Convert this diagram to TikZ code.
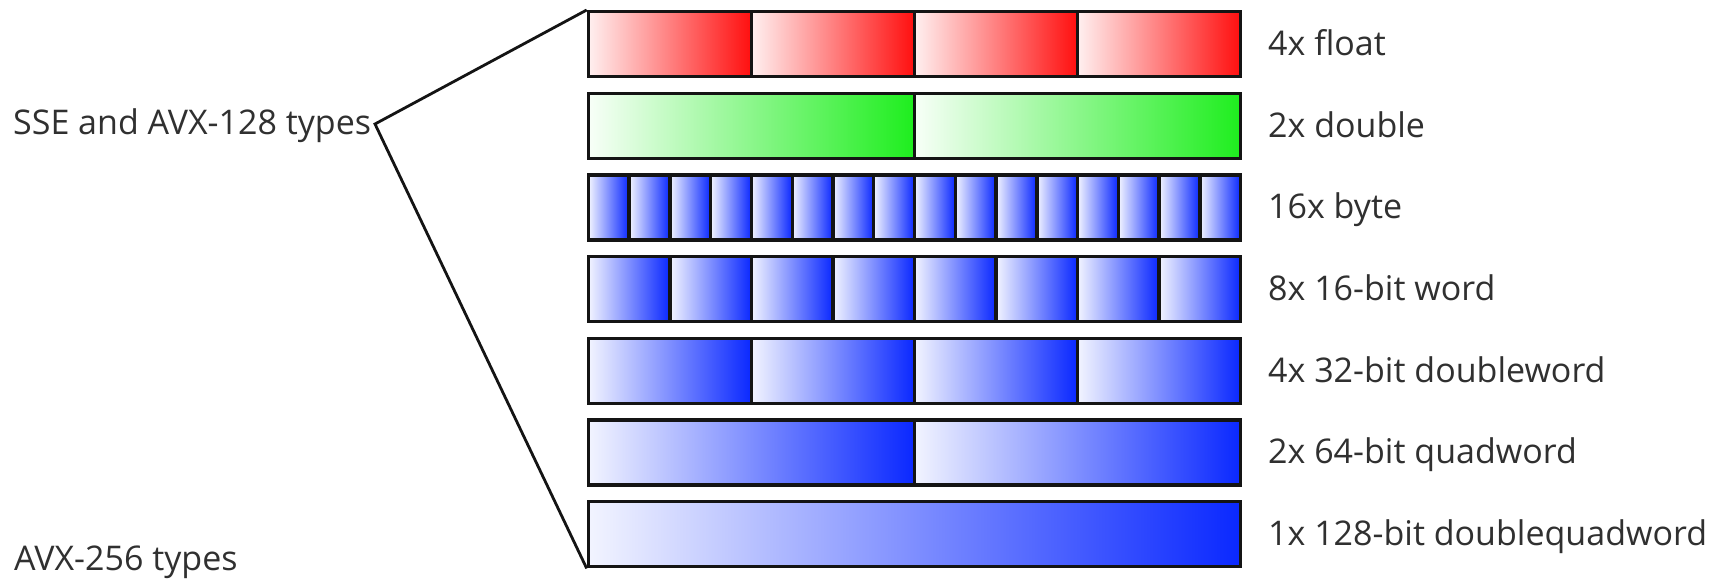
\documentclass[tikz,border=0pt]{standalone}
\usepackage{fontspec}
\setmainfont{Open Sans}
\definecolor{txt}{RGB}{48,48,48}
\definecolor{redL}{RGB}{255,240,240}
\definecolor{redR}{RGB}{255,15,15}
\definecolor{grnL}{RGB}{248,255,248}
\definecolor{grnR}{RGB}{30,238,30}
\definecolor{bluL}{RGB}{242,244,255}
\definecolor{bluR}{RGB}{10,40,255}
\begin{document}
\begin{tikzpicture}[x=1pt,y=-1pt,
  cell/.style={draw=black!92, line width=3.4pt, minimum height=65pt, inner sep=0pt, anchor=north west},
  redcell/.style={cell, left color=redL, right color=redR},
  grncell/.style={cell, left color=grnL, right color=grnR},
  blucell/.style={cell, left color=bluL, right color=bluR},
  lbl/.style={text=txt, font=\fontsize{34}{40}\selectfont, inner sep=0pt, anchor=base west},
  conn/.style={draw=black!92, line width=2.8pt}]
\useasboundingbox (0,0) rectangle (1716,580);
\pgfmathsetmacro{\X}{586.7}
\pgfmathsetmacro{\W}{652.3}
\pgfmathsetmacro{\P}{81.67}
% row 1: 4x float
\foreach \i in {0,...,3}
  \node[redcell, minimum width=\W/4] (f\i) at ({\X+\i*\W/4}, 10) {};
% row 2: 2x double
\foreach \i in {0,...,1}
  \node[grncell, minimum width=\W/2] (d\i) at ({\X+\i*\W/2}, {10+\P}) {};
% row 3: 16x byte
\foreach \i in {0,...,15}
  \node[blucell, minimum width=\W/16] (b\i) at ({\X+\i*\W/16}, {10+2*\P}) {};
% row 4: 8x word
\foreach \i in {0,...,7}
  \node[blucell, minimum width=\W/8] (w\i) at ({\X+\i*\W/8}, {10+3*\P}) {};
% row 5: 4x doubleword
\foreach \i in {0,...,3}
  \node[blucell, minimum width=\W/4] (dw\i) at ({\X+\i*\W/4}, {10+4*\P}) {};
% row 6: 2x quadword
\foreach \i in {0,...,1}
  \node[blucell, minimum width=\W/2] (q\i) at ({\X+\i*\W/2}, {10+5*\P}) {};
% row 7: 1x doublequadword
\node[blucell, minimum width=\W] (dq0) at (\X, {10+6*\P}) {};
% right labels
\node[lbl] (l1) at (1268, {55.5+0*\P}) {4x float};
\node[lbl] (l2) at (1268, {55.5+1*\P}) {2x double};
\node[lbl] (l3) at (1268, {55.5+2*\P}) {16x byte};
\node[lbl] (l4) at (1268, {55.5+3*\P}) {8x 16-bit word};
\node[lbl] (l5) at (1268, {55.5+4*\P}) {4x 32-bit doubleword};
\node[lbl] (l6) at (1268, {55.5+5*\P}) {2x 64-bit quadword};
\node[lbl] (l7) at (1268, {55.5+6*\P}) {1x 128-bit doublequadword};
% left labels
\node[lbl] (sse) at (13, 135) {SSE and AVX-128 types};
\node[lbl] (avx) at (14, 570) {AVX-256 types};
\coordinate (apex) at (375, 124);
\draw[conn, line join=miter] (f0.north west) -- (apex) -- (dq0.south west);
\end{tikzpicture}
\end{document}
